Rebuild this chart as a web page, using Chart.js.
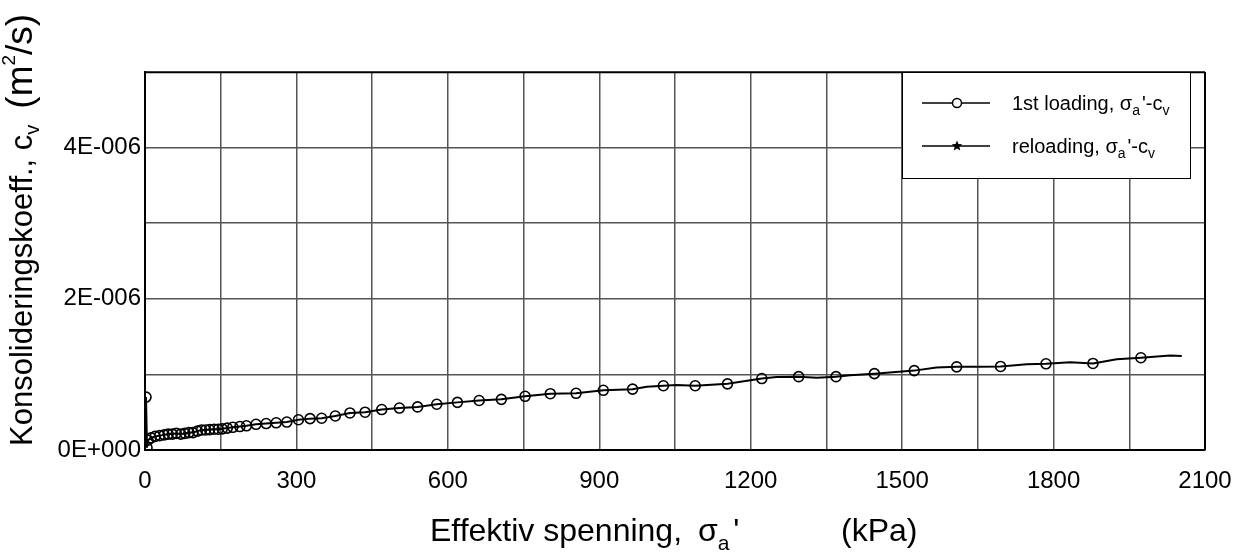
<!DOCTYPE html>
<html>
<head>
<meta charset="utf-8">
<title>Konsolideringskoeffisient</title>
<script src="https://cdn.jsdelivr.net/npm/chart.js@4/dist/chart.umd.min.js"></script>
<style>
  html, body { margin: 0; padding: 0; background: #fff; }
  #wrap { width: 1254px; height: 560px; }
</style>
</head>
<body>
<div id="wrap"><canvas id="cv" width="1254" height="560"></canvas></div>
<script>
// 1st loading: points with circle markers (stress kPa, cv in 1E-006 m2/s)
const markerStress = [2, 4, 6, 12, 20, 29, 38, 46, 54, 62, 71, 79, 87, 95, 104, 112, 120, 128, 137, 145,
  153, 163, 174, 188, 201, 220, 240, 260, 281, 304, 327, 350, 377, 406, 436, 469, 504, 540, 578, 619,
  662, 706, 753, 803, 854, 908, 966, 1027, 1090, 1154, 1222, 1295, 1369, 1445, 1524, 1608, 1695, 1785, 1878, 1973];
const markerCv = [0.70, 0.03, 0.13, 0.16, 0.18, 0.19, 0.20, 0.21, 0.21, 0.22, 0.21, 0.22, 0.23, 0.23, 0.25, 0.265, 0.265, 0.27, 0.275, 0.275,
  0.28, 0.29, 0.30, 0.31, 0.32, 0.34, 0.35, 0.36, 0.37, 0.40, 0.415, 0.42, 0.45, 0.49, 0.50, 0.535, 0.555, 0.57, 0.605, 0.63,
  0.655, 0.67, 0.71, 0.745, 0.75, 0.79, 0.805, 0.85, 0.85, 0.875, 0.945, 0.97, 0.97, 1.01, 1.05, 1.10, 1.105, 1.14, 1.145, 1.22];

// 1st loading: points on the curve without a marker
const curveStress = [994, 1053, 1251, 1331, 1397, 1568, 1654, 1747, 1833, 1925, 2031, 2054];
const curveCv = [0.838, 0.86, 0.965, 0.957, 0.99, 1.09, 1.10, 1.133, 1.16, 1.20, 1.25, 1.245];

// reloading: no points in this test
const reloadStress = [];
const reloadCv = [];

// axis ticks
const xMin = 0, xMax = 2100, xGridStep = 150, xLabelStep = 300;
const yMin = 0, yMax = 5, yGridStep = 1, yLabelStep = 2;

const FONT = '"Liberation Sans", Arial, sans-serif';

const markerPoints = markerStress.map((x, i) => ({ x: x, y: markerCv[i] }));
const curvePoints = markerPoints
  .concat(curveStress.map((x, i) => ({ x: x, y: curveCv[i] })))
  .sort((a, b) => a.x - b.x);
const reloadPoints = reloadStress.map((x, i) => ({ x: x, y: reloadCv[i] }));

function yLabel(v) {
  if (v === 0) return '0E+000';
  return Math.round(v) + 'E-006';
}

// draw a line of text made of parts [text, size, shift, extraGapBefore]
function drawRich(ctx, parts, x, y) {
  let cx = x;
  ctx.textAlign = 'left';
  ctx.textBaseline = 'alphabetic';
  parts.forEach(p => {
    cx += p[3] || 0;
    ctx.font = p[1] + 'px ' + FONT;
    ctx.fillText(p[0], cx, y + (p[2] || 0));
    cx += ctx.measureText(p[0]).width;
  });
}

function drawStar(ctx, cx, cy, r) {
  ctx.beginPath();
  for (let i = 0; i < 10; i++) {
    const a = -Math.PI / 2 + i * Math.PI / 5;
    const rr = i % 2 === 0 ? r : r * 0.45;
    ctx.lineTo(cx + rr * Math.cos(a), cy + rr * Math.sin(a));
  }
  ctx.closePath();
  ctx.fill();
}

const decorPlugin = {
  id: 'decor',
  afterDraw(chart) {
    const ctx = chart.ctx;
    const a = chart.chartArea;
    ctx.save();
    ctx.fillStyle = '#000';
    ctx.strokeStyle = '#000';

    // frame
    ctx.lineWidth = 1.5;
    ctx.beginPath();
    ctx.moveTo(a.left, a.top + 0.5);
    ctx.lineTo(a.right, a.top + 0.5);
    ctx.stroke();
    ctx.lineWidth = 2;
    ctx.beginPath();
    ctx.moveTo(a.right, a.top);
    ctx.lineTo(a.right, a.bottom);
    ctx.stroke();

    // x axis title
    drawRich(ctx, [
      ['Effektiv spenning, ', 32, 0],
      ['σ', 32, 0, 7],
      ['a', 21, 9],
      ["'", 32, 0, 4]
    ], 430, 541);
    drawRich(ctx, [['(kPa)', 32, 0]], 841, 541);

    // y axis title
    ctx.save();
    ctx.translate(32, 446);
    ctx.rotate(-Math.PI / 2);
    drawRich(ctx, [
      ['Konsolideringskoeff., c', 31, 0],
      ['v', 20, 7],
      ['(m', 37, 0, 16],
      ['2', 19, -17],
      ['/s)', 37, 0]
    ], 0, 0);
    ctx.restore();

    // legend box
    const lx = 902, ly = 72, lw = 288, lh = 106;
    ctx.fillStyle = '#fff';
    ctx.fillRect(lx, ly, lw, lh);
    ctx.lineWidth = 1;
    ctx.strokeStyle = '#000';
    ctx.strokeRect(lx + 0.5, ly + 0.5, lw, lh);

    ctx.fillStyle = '#000';
    ctx.lineWidth = 1.5;
    [103, 146].forEach((yy, i) => {
      ctx.beginPath();
      ctx.moveTo(922, yy);
      ctx.lineTo(990, yy);
      ctx.stroke();
      if (i === 0) {
        ctx.fillStyle = '#fff';
        ctx.beginPath();
        ctx.arc(957, yy, 4.5, 0, Math.PI * 2);
        ctx.fill();
        ctx.lineWidth = 1.5;
        ctx.stroke();
        ctx.fillStyle = '#000';
      } else {
        drawStar(ctx, 957, yy, 5.5);
      }
    });
    drawRich(ctx, [
      ['1st loading, σ', 20, 0],
      ['a', 14, 5],
      ["'-c", 20, 0, 2],
      ['v', 14, 5]
    ], 1012, 110);
    drawRich(ctx, [
      ['reloading, σ', 20, 0],
      ['a', 14, 5],
      ["'-c", 20, 0, 2],
      ['v', 14, 5]
    ], 1012, 153);
    ctx.restore();
  }
};

new Chart(document.getElementById('cv'), {
  type: 'line',
  data: {
    datasets: [
      {
        label: '1st loading curve',
        data: curvePoints,
        borderColor: '#000',
        borderWidth: 2,
        pointRadius: 0,
        tension: 0,
        fill: false
      },
      {
        label: "1st loading, σa'-cv",
        data: markerPoints,
        showLine: false,
        pointStyle: 'circle',
        pointRadius: 5,
        borderColor: '#000',
        borderWidth: 1.6,
        backgroundColor: 'rgba(255,255,255,0)'
      },
      {
        label: "reloading, σa'-cv",
        data: reloadPoints,
        borderColor: '#000',
        borderWidth: 2,
        pointStyle: 'star',
        pointRadius: 5,
        tension: 0
      }
    ]
  },
  options: {
    responsive: false,
    animation: false,
    devicePixelRatio: 1,
    layout: { padding: { top: 72, right: 49, left: 0, bottom: 0 } },
    plugins: {
      legend: { display: false },
      tooltip: { enabled: false }
    },
    scales: {
      x: {
        type: 'linear',
        min: xMin,
        max: xMax,
        afterFit: s => { s.height = 110; },
        ticks: {
          stepSize: xGridStep,
          autoSkip: false,
          maxRotation: 0,
          padding: 17,
          color: '#000',
          font: { family: FONT, size: 24 },
          callback: v => (v % xLabelStep === 0 ? String(v) : '')
        },
        grid: { color: '#555', lineWidth: 1.5, drawTicks: false },
        border: { color: '#000', width: 2 }
      },
      y: {
        type: 'linear',
        min: yMin,
        max: yMax,
        afterFit: s => { s.width = 145; },
        ticks: {
          stepSize: yGridStep,
          autoSkip: false,
          padding: 4,
          color: '#000',
          font: { family: FONT, size: 24 },
          callback: v => (v % yLabelStep === 0 ? yLabel(v) : '')
        },
        grid: { color: '#555', lineWidth: 1.5, drawTicks: false },
        border: { color: '#000', width: 2 }
      }
    }
  },
  plugins: [decorPlugin]
});
</script>
</body>
</html>
